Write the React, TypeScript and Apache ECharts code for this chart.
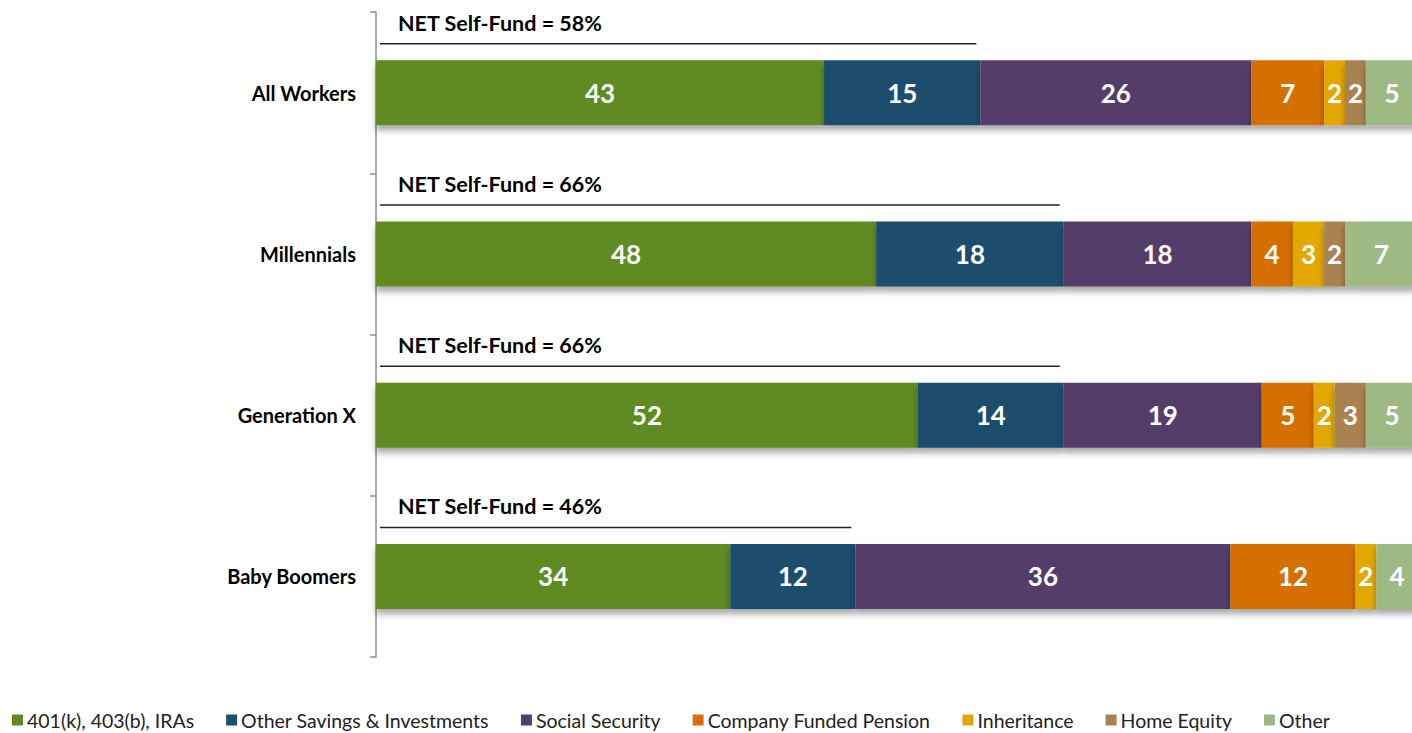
import React, { useEffect, useRef } from "react";
import * as echarts from "echarts";

const categories = ["All Workers", "Millennials", "Generation X", "Baby Boomers"];
const seriesNames = [
  "401(k), 403(b), IRAs",
  "Other Savings & Investments",
  "Social Security",
  "Company Funded Pension",
  "Inheritance",
  "Home Equity",
  "Other",
];
const colors = ["#5f8b22", "#1a4e6d", "#543e6a", "#d56f06", "#e2a800", "#a9834f", "#9dba85"];
const retirementPlans = [43, 48, 52, 34];
const otherSavings = [15, 18, 14, 12];
const socialSecurity = [26, 18, 19, 36];
const companyPension = [7, 4, 5, 12];
const inheritance = [2, 3, 2, 2];
const homeEquity = [2, 2, 3, 0];
const otherSource = [5, 7, 5, 4];
const netSelfFund = [58, 66, 66, 46];

const seriesValues = [
  retirementPlans,
  otherSavings,
  socialSecurity,
  companyPension,
  inheritance,
  homeEquity,
  otherSource,
];

const FONT = "Lato";

export default function App() {
  const ref = useRef<HTMLDivElement>(null);
  useEffect(() => {
    document.body.style.margin = "0";
    const chart = echarts.init(ref.current!, undefined, { renderer: "svg" });
    const barSeries = seriesNames.map((name, i) => ({
      name,
      type: "bar",
      stack: "total",
      barWidth: 65,
      data: seriesValues[i],
      itemStyle: {
        color: colors[i],
        shadowBlur: 6,
        shadowOffsetY: 5,
        shadowColor: "rgba(0,0,0,0.35)",
      },
      label: {
        show: true,
        position: "inside",
        color: "#ffffff",
        fontFamily: FONT,
        fontWeight: "bold",
        fontSize: 26,
        formatter: (p: any) => (p.value ? String(p.value) : ""),
      },
    }));
    chart.setOption({
      animation: false,
      color: colors,
      grid: { left: 376, top: 12, width: 1042, height: 645, outerBoundsMode: "none", containLabel: false },
      xAxis: {
        type: "value",
        min: 0,
        max: 100,
        show: false,
      },
      yAxis: {
        type: "category",
        data: categories,
        inverse: true,
        axisLine: { show: true, lineStyle: { color: "#8c8c8c", width: 1.5 } },
        axisTick: { show: true, length: 6, lineStyle: { color: "#8c8c8c", width: 1.5 } },
        axisLabel: {
          margin: 20,
          color: "#000",
          fontFamily: FONT,
          fontWeight: "bold",
          fontSize: 20,
        },
      },
      legend: {
        data: seriesNames,
        left: 7,
        top: 705,
        itemWidth: 11,
        itemHeight: 11,
        itemGap: 32,
        icon: "rect",
        textStyle: { fontFamily: FONT, fontSize: 19.5, color: "#222", padding: [0, 0, 0, -1] },
      },
      series: [
        ...barSeries,
        {
          type: "custom",
          name: "net",
          data: netSelfFund.map((v, i) => [v, i]),
          encode: { x: 0, y: 1 },
          z: 10,
          renderItem: (params: any, api: any) => {
            const net = api.value(0);
            const cat = api.value(1);
            const start = api.coord([0, cat]);
            const end = api.coord([net, cat]);
            const y = start[1] - 49;
            return {
              type: "group",
              children: [
                {
                  type: "line",
                  shape: { x1: start[0] + 4, y1: y, x2: end[0] - 4, y2: y },
                  style: { stroke: "#222", lineWidth: 1.5 },
                },
                {
                  type: "text",
                  x: start[0] + 22,
                  y: start[1] - 70,
                  style: {
                    text: "NET Self-Fund = " + net + "%",
                    font: "bold 21.5px " + FONT,
                    fill: "#000",
                    verticalAlign: "middle",
                  },
                },
              ],
            };
          },
        },
      ],
    });
    return () => chart.dispose();
  }, []);
  return <div ref={ref} style={{ width: 1412, height: 733 }} />;
}
